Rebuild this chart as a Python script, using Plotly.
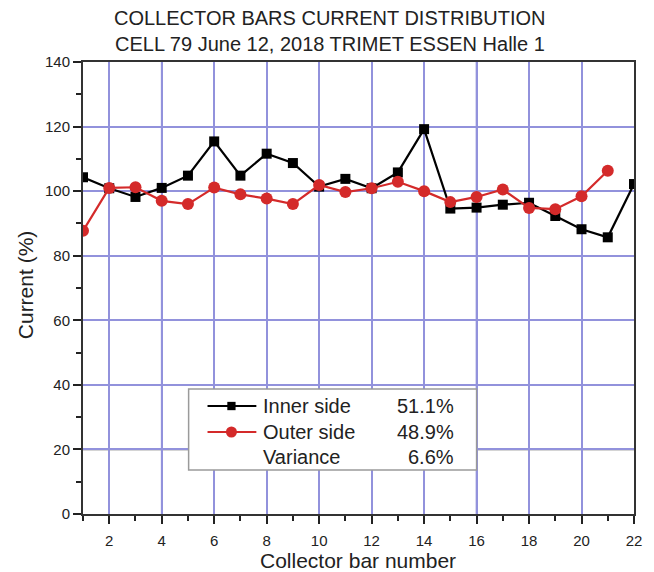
import plotly.graph_objects as go

# Collector bar positions and current share (%) per bar
bars_inner = list(range(1, 23))
inner_side = [104.3, 100.9, 98.2, 101.0, 104.8, 115.4, 104.8, 111.6, 108.7, 101.4, 103.8,
              100.9, 105.8, 119.2, 94.6, 94.9, 95.8, 96.4, 92.3, 88.2, 85.7, 102.2]
bars_outer = list(range(1, 22))
outer_side = [87.7, 101.0, 101.2, 97.0, 96.0, 101.1, 99.0, 97.7, 96.0, 101.9, 99.7,
              100.9, 102.9, 100.0, 96.6, 98.2, 100.5, 94.8, 94.4, 98.4, 106.3]

legend_rows = ["Inner side", "Outer side", "Variance"]
legend_vals = ["51.1%", "48.9%", "6.6%"]

title_lines = ["COLLECTOR BARS CURRENT DISTRIBUTION",
               "CELL 79 June 12, 2018 TRIMET ESSEN Halle 1"]

x_ticks = list(range(2, 23, 2))
y_ticks = list(range(0, 141, 20))

FONT = "Liberation Sans, Arial, sans-serif"
TXT = "#222222"
GRID = "#9292dc"
RED = "#d42a2a"

fig = go.Figure()
fig.add_trace(go.Scatter(
    x=bars_inner, y=inner_side, mode="lines+markers", name="Inner side",
    line=dict(color="black", width=2.2),
    marker=dict(symbol="square", size=10, color="black"),
))
fig.add_trace(go.Scatter(
    x=bars_outer, y=outer_side, mode="lines+markers", name="Outer side",
    line=dict(color=RED, width=2.2),
    marker=dict(symbol="circle", size=12, color=RED),
))

shapes = []
# a few grid lines are drawn darker
for xv in (4, 10, 16):
    shapes.append(dict(type="line", xref="x", yref="y", x0=xv, x1=xv, y0=0, y1=140,
                       line=dict(color="#5c5cc4", width=1.6), layer="below"))
shapes.append(dict(type="line", xref="x", yref="y", x0=1, x1=22, y0=20, y1=20,
                   line=dict(color="#555555", width=1.4), layer="below"))

# legend panel (plot-area fractions)
shapes.append(dict(type="rect", xref="paper", yref="paper",
                   x0=0.1917, x1=0.7143, y0=0.0973, y1=0.2765,
                   line=dict(color="#9a9a9a", width=1.5), fillcolor="white", layer="above"))

annotations = []
row_y = [0.2389, 0.1814, 0.1261]
samples = [("black", "square"), (RED, "circle"), (None, None)]
sx0, sx1, xm = 0.2260, 0.3146, 0.2694
for (col, sym), yy, name, val in zip(samples, row_y, legend_rows, legend_vals):
    if col:
        shapes.append(dict(type="line", xref="paper", yref="paper", x0=sx0, x1=sx1, y0=yy, y1=yy,
                           line=dict(color=col, width=2.2), layer="above"))
        if sym == "square":
            shapes.append(dict(type="rect", xref="paper", yref="paper",
                               x0=xm - 0.0075, x1=xm + 0.0075, y0=yy - 0.0092, y1=yy + 0.0092,
                               fillcolor=col, line=dict(width=0), layer="above"))
        else:
            shapes.append(dict(type="circle", xref="paper", yref="paper",
                               x0=xm - 0.0100, x1=xm + 0.0100, y0=yy - 0.0122, y1=yy + 0.0122,
                               fillcolor=col, line=dict(width=0), layer="above"))
    annotations.append(dict(xref="paper", yref="paper", x=0.3237, y=yy, text=name,
                            showarrow=False, xanchor="left", yanchor="middle",
                            font=dict(family=FONT, size=20, color=TXT)))
    annotations.append(dict(xref="paper", yref="paper", x=0.6763, y=yy, text=val,
                            showarrow=False, xanchor="right", yanchor="middle",
                            font=dict(family=FONT, size=20, color=TXT)))

# two-line heading
for yy, line in zip([1.0973, 1.0398], title_lines):
    annotations.append(dict(xref="paper", yref="paper", x=0.4485, y=yy, text=line,
                            showarrow=False, xanchor="center", yanchor="middle",
                            font=dict(family=FONT, size=20, color=TXT)))

# axis titles
annotations.append(dict(xref="paper", yref="paper", x=0.499, y=-0.1018,
                        text="Collector bar number", showarrow=False,
                        xanchor="center", yanchor="middle",
                        font=dict(family=FONT, size=21, color=TXT)))
annotations.append(dict(xref="paper", yref="paper", x=-0.1049, y=0.5066,
                        text="Current (%)", showarrow=False, textangle=-90,
                        xanchor="center", yanchor="middle",
                        font=dict(family=FONT, size=21, color=TXT)))

axis_common = dict(
    showgrid=True, gridcolor=GRID, gridwidth=1.5,
    showline=True, linecolor="#333333", linewidth=2, mirror=True,
    ticks="outside", ticklen=8, tickwidth=2, tickcolor="#222222",
    zeroline=False, tickfont=dict(family=FONT, size=15, color=TXT),
)

fig.update_layout(
    width=654, height=572,
    margin=dict(l=83, r=18, t=62, b=58),
    paper_bgcolor="white", plot_bgcolor="white",
    showlegend=False,
    font=dict(family=FONT, color=TXT),
    xaxis=dict(
        range=[1, 22], tickvals=x_ticks, ticktext=[str(v) for v in x_ticks],
        minor=dict(dtick=1, tick0=1, ticks="outside", ticklen=5, tickwidth=1.8,
                   tickcolor="#222222", showgrid=False),
        ticklabelstandoff=4,
        **axis_common,
    ),
    yaxis=dict(
        range=[0, 140], tickvals=y_ticks, ticktext=[str(v) for v in y_ticks],
        minor=dict(dtick=10, tick0=0, ticks="outside", ticklen=5, tickwidth=1.8,
                   tickcolor="#222222", showgrid=False),
        **axis_common,
    ),
    shapes=shapes,
    annotations=annotations,
)

fig.write_html("out.html")
